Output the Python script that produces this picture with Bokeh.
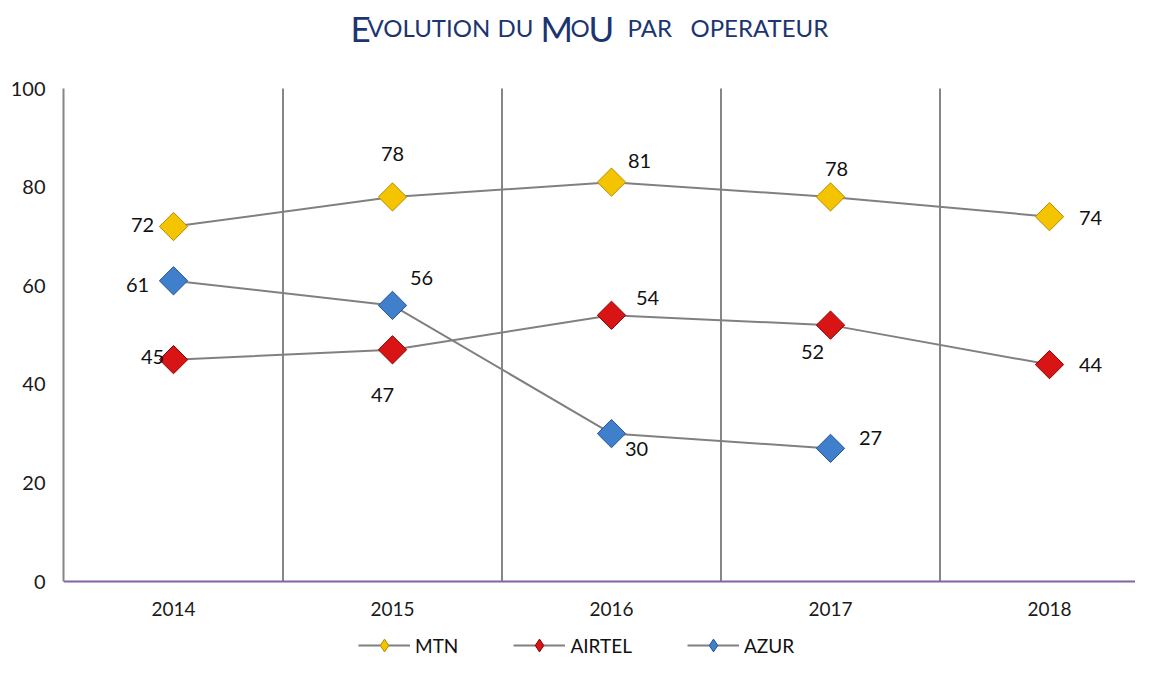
import math
from bokeh.plotting import figure
from bokeh.models import FixedTicker, Label, Legend, LegendItem, ColumnDataSource
from bokeh.core.properties import value
from bokeh.embed import file_html
from bokeh.resources import INLINE

# ---- data ----
years = ["2014", "2015", "2016", "2017", "2018"]
mtn = [72, 78, 81, 78, 74]
airtel = [45, 47, 54, 52, 44]
azur = [61, 56, 30, 27, None]
y_ticks = [0, 20, 40, 60, 80, 100]

# ---- styles / label offsets (px) ----
FONT = "Lato"
TFONT = "Lato"
mtn_off = ([-31, 0, 28, 6, 41], [-2, -43, -21, -28, 1])
airtel_off = ([-21, -10, 36, -18, 41], [-3, 45, -17, 27, 0])
azur_off = ([-36, 29, 25, 40, 0], [4, -27, 15, -10, 0])

W, H = 1135, 661
LEFT = 63
# frame spans the full height; value 100 sits at y=88 px, 0 at y=581 px
ppu = (581 - 88) / 100.0
y0 = -(H - 581) / ppu
y1 = 100 + 88 / ppu
xppu = 219.0
x0 = -110 / xppu
x1 = x0 + (W - LEFT) / xppu

p = figure(width=W, height=H, output_backend="svg", toolbar_location=None,
           x_range=(x0, x1), y_range=(y0, y1),
           min_border_left=LEFT, min_border_right=0, min_border_top=0, min_border_bottom=0)
p.outline_line_color = None
p.background_fill_color = "white"
p.border_fill_color = "white"
p.xgrid.grid_line_color = None
p.ygrid.grid_line_color = None

# vertical separators between categories, spanning the value axis only
bounds = [i + 0.5 for i in range(len(years) - 1)]
p.segment(x0=bounds, y0=[y_ticks[0]] * len(bounds), x1=bounds, y1=[y_ticks[-1]] * len(bounds),
          line_color="#868686", line_width=2)

# axes
p.xaxis.fixed_location = 0
p.xaxis.ticker = FixedTicker(ticks=list(range(len(years))))
p.xaxis.major_label_overrides = {i: y for i, y in enumerate(years)}
p.xaxis.axis_line_color = "#8064A2"
p.xaxis.axis_line_width = 2
p.xaxis.major_tick_line_color = None
p.xaxis.minor_tick_line_color = None
p.xaxis.major_label_standoff = 14
p.xaxis.major_label_text_font = FONT
p.xaxis.major_label_text_font_size = "19px"
p.xaxis.major_label_text_color = "#1a1a1a"

p.yaxis.ticker = FixedTicker(ticks=y_ticks)
p.yaxis.bounds = (0, 100)
p.yaxis.axis_line_color = "#868686"
p.yaxis.axis_line_width = 2
p.yaxis.major_tick_line_color = None
p.yaxis.minor_tick_line_color = None
p.yaxis.major_label_standoff = 12
p.yaxis.major_label_text_font = FONT
p.yaxis.major_label_text_font_size = "20px"
p.yaxis.major_label_text_color = "#1a1a1a"

series = [
    ("MTN", mtn, "#F5C400", "#B48C00", mtn_off),
    ("AIRTEL", airtel, "#D91414", "#8A0000", airtel_off),
    ("AZUR", azur, "#3F7FCC", "#25538F", azur_off),
]

items = []
for name, vals, fill, edge, (dx, dy) in series:
    idx = [i for i, v in enumerate(vals) if v is not None]
    src = ColumnDataSource(dict(
        x=idx,
        y=[vals[i] for i in idx],
        t=[str(vals[i]) for i in idx],
        dx=[dx[i] for i in idx],
        dy=[dy[i] for i in idx],
    ))
    ln = p.line("x", "y", source=src, line_color="#808080", line_width=2)
    p.scatter("x", "y", source=src, marker="square", angle=math.pi / 4, size=20,
              fill_color=fill, line_color=edge, line_width=1)
    p.text("x", "y", text="t", x_offset="dx", y_offset="dy", source=src,
           text_font=value(FONT), text_font_size="20px", text_align="center",
           text_baseline="middle", text_color="#111111")
    # hidden diamond renderer used only for the legend swatch
    lg_mark = p.scatter("x", "y", source=src, marker="diamond", fill_color=fill,
                        line_color=edge, line_width=1, visible=False)
    items.append(LegendItem(label=name, renderers=[ln, lg_mark]))

legend = Legend(items=items, orientation="horizontal", location=(295, 0),
                glyph_width=52, glyph_height=32, label_standoff=5, spacing=55,
                padding=0, margin=0, border_line_color=None, background_fill_alpha=0,
                label_text_font=FONT, label_text_font_size="19px", label_text_color="#111111")
p.add_layout(legend, "center")

# title in small caps, composed of pieces (x from frame left, y from frame bottom)
title_parts = [("E", 287, 35), ("VOLUTION", 304, 24), ("DU", 434, 24), ("M", 477, 35),
               ("O", 507, 24), ("U", 525, 35), ("PAR", 564, 24), ("OPERATEUR", 627, 24)]
for txt, xs, fs in title_parts:
    p.add_layout(Label(x=xs, y=H - 27, x_units="screen", y_units="screen", text=txt,
                       text_font=TFONT, text_font_size=f"{fs}px", text_color="#1B3570",
                       text_baseline="alphabetic", text_align="left"))

open("out.html", "w").write(file_html(p, INLINE))
